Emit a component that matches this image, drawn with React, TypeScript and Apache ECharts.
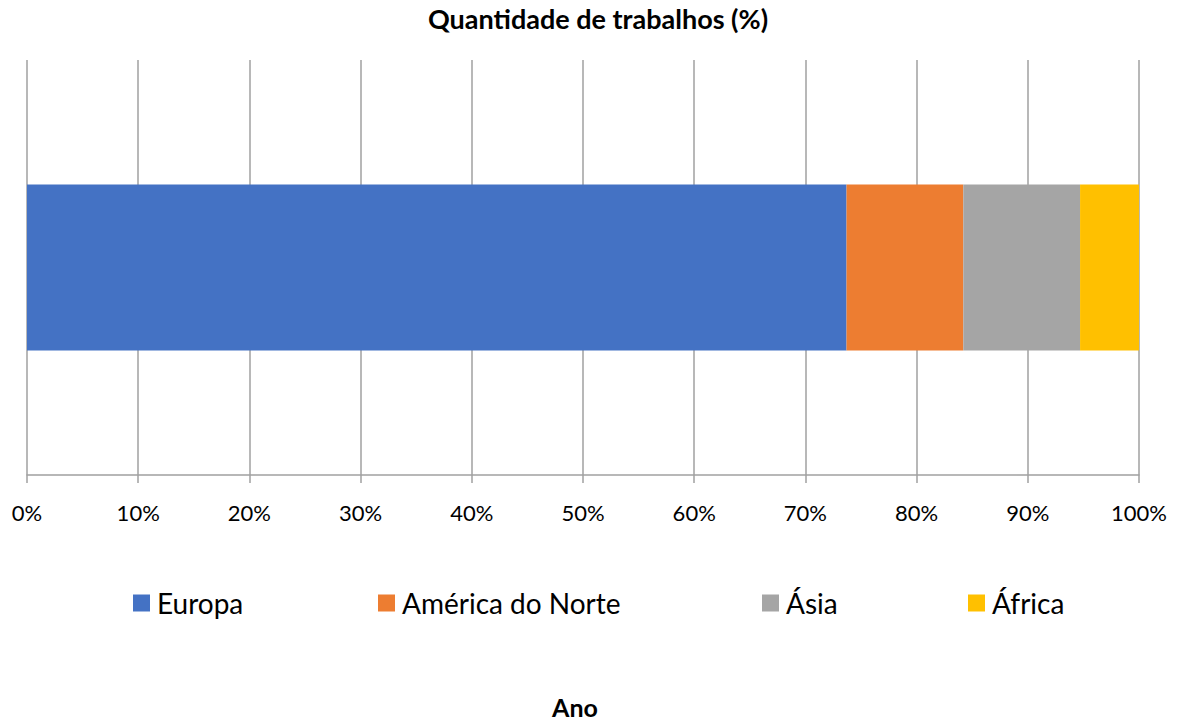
import React, { useEffect, useRef } from "react";
import * as echarts from "echarts";

const categories = ["Ano"];
const seriesNames = ["Europa", "América do Norte", "Ásia", "África"];
const europa = [73.7];
const americaNorte = [10.5];
const asia = [10.5];
const africa = [5.3];
const xTicks = [0, 10, 20, 30, 40, 50, 60, 70, 80, 90, 100];
const colors = ["#4472C4", "#ED7D31", "#A5A5A5", "#FFC000"];
const legendLefts = [133, 378, 762, 968];

export default function App() {
  const ref = useRef<HTMLDivElement>(null);
  useEffect(() => {
    if (!ref.current) return;
    const chart = echarts.init(ref.current, null, { renderer: "svg" });
    const data = [europa, americaNorte, asia, africa];
    chart.setOption({
      animation: false,
      textStyle: { fontFamily: "Lato" },
      title: [
        {
          text: "Quantidade de trabalhos (%)",
          left: 598,
          textAlign: "center",
          top: 5,
          padding: 0,
          textStyle: { fontFamily: "Lato", fontWeight: "bold", fontSize: 27, color: "#000" },
        },
        {
          text: "Ano",
          left: 575,
          textAlign: "center",
          top: 694,
          padding: 0,
          textStyle: { fontFamily: "Lato", fontWeight: "bold", fontSize: 25, color: "#000" },
        },
      ],
      legend: seriesNames.map((name, i) => ({
        data: [name],
        left: legendLefts[i],
        top: 589,
        padding: 0,
        itemGap: 0,
        itemWidth: 17,
        itemHeight: 17,
        icon: "rect",
        textStyle: { fontFamily: "Lato", fontSize: 28, color: "#000", padding: [0, 0, 0, 2] },
      })),
      grid: { left: 27, right: 40, top: 60, bottom: 247, containLabel: false },
      xAxis: {
        type: "value",
        min: xTicks[0],
        max: xTicks[xTicks.length - 1],
        interval: 10,
        axisLine: { show: true, lineStyle: { color: "#a0a0a0", width: 1.5 } },
        axisTick: { show: true, length: 8, lineStyle: { color: "#a0a0a0", width: 1.5 } },
        splitLine: { show: true, lineStyle: { color: "#a0a0a0", width: 1.5 } },
        axisLabel: {
          formatter: "{value}%",
          fontFamily: "Lato",
          fontSize: 22,
          color: "#000",
          margin: 26,
        },
      },
      yAxis: {
        type: "category",
        data: categories,
        axisLine: { show: false },
        axisTick: { show: false },
        axisLabel: { show: false },
      },
      series: seriesNames.map((name, i) => ({
        name,
        type: "bar",
        stack: "total",
        barWidth: 166,
        data: data[i],
        itemStyle: { color: colors[i] },
      })),
    });
    return () => chart.dispose();
  }, []);
  return <div ref={ref} style={{ width: 1179, height: 722, position: "absolute", left: 0, top: 0 }} />;
}
